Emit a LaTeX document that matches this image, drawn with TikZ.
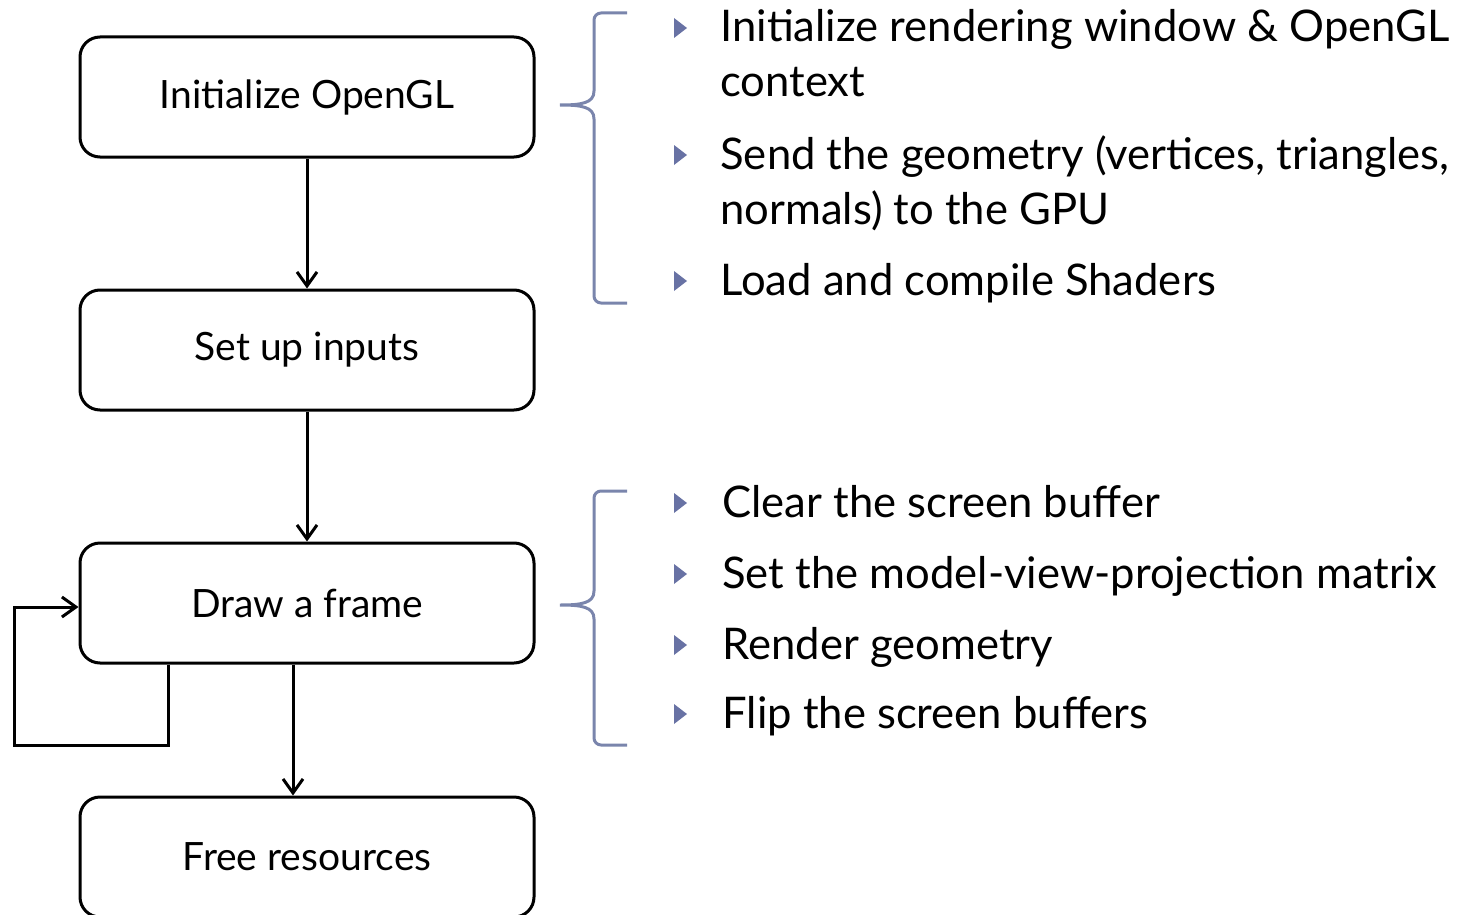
\documentclass[tikz,border=0pt]{standalone}
\usepackage{fontspec}
\setmainfont{Lato}
\usetikzlibrary{arrows.meta,positioning}
\definecolor{bracegray}{RGB}{122,133,172}
\definecolor{bulletblue}{RGB}{104,114,164}
\tikzset{
  wire/.style={black,line width=1.5pt},
  flow/.style={wire,-{Straight Barb[length=7pt,width=10pt]}},
  stepbox/.style={draw=black,line width=1.5pt,rounded corners=10pt,
                  minimum width=227pt,minimum height=60pt,inner sep=0pt,
                  font=\fontsize{19.5}{22}\selectfont},
  brace/.style={draw=bracegray,line width=1.5pt},
  bullet/.style={fill=bulletblue},
  item/.style={anchor=base west,align=left,inner sep=0pt,
               font=\fontsize{21.8}{27.5}\selectfont},
}
\begin{document}
\begin{tikzpicture}[x=0.5pt,y=-0.5pt]
  \path[use as bounding box] (0,0) rectangle (1461,915);

  % flow chart
  \node[stepbox] (init) at (307,97) {Initialize OpenGL};
  \node[stepbox] (inputs) at (307,350) {Set up inputs};
  \node[stepbox] (frame) at (307,603) {Draw a frame};
  \node[stepbox] (free) at (307,857) {Free resources};
  \coordinate (loopcorner) at (14,745);
  \draw[flow] (init.south)--(inputs.north);
  \draw[flow] (inputs.south)--(frame.north);
  \draw[flow] ([xshift=-7pt]frame.south)--([xshift=-7pt]free.north);
  \draw[flow] ([xshift=-69.5pt]frame.south) |- (loopcorner) |- ([yshift=-2pt]frame.west);

  % braces
  \foreach \top/\tip/\bot in {13/105/303,491/605/745}{
    \draw[brace] (627,\top) -- (601,\top) to[out=180,in=90] (594,\top+7)
      -- (594,\tip-14) .. controls (594,\tip-2) and (582,\tip) .. (560,\tip)
      .. controls (582,\tip) and (594,\tip+2) .. (594,\tip+14)
      -- (594,\bot-7) to[out=-90,in=180] (601,\bot) -- (627,\bot);
  }

  % bullets (base of a two-line item is its last line)
  \foreach \y in {28,155,281,503,574,645,714}
    \fill[bullet] (674,\y-10) -- (687,\y) -- (674,\y+10) -- cycle;

  \node[item] (ctx) at (720,97) {Initialize rendering window \& OpenGL\\context};
  \node[item] (geom) at (720,224) {Send the geometry (vertices, triangles,\\normals) to the GPU};
  \node[item] (shaders) at (720,295) {Load and compile Shaders};
  \node[item] (clear) at (722,517) {Clear the screen buffer};
  \node[item] (mvp) at (722,588) {Set the model-view-projection matrix};
  \node[item] (render) at (722,659) {Render geometry};
  \node[item] (flip) at (722,728) {Flip the screen buffers};
\end{tikzpicture}
\end{document}
